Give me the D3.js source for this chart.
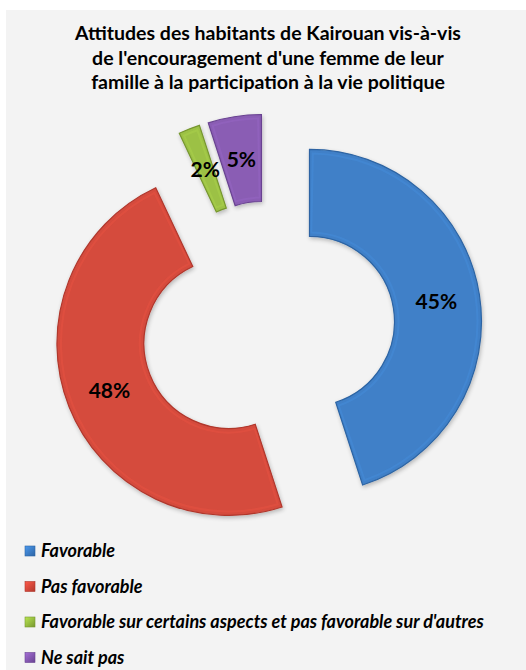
<!DOCTYPE html>
<html><head><meta charset="utf-8">
<script src="https://cdn.jsdelivr.net/npm/d3@7"></script>
<style>body{margin:0;background:#fff}svg{display:block}</style>
</head><body>
<script>
const titleLines = ["Attitudes des habitants de Kairouan vis-à-vis","de l'encouragement d'une femme de leur","famille à la participation à la vie politique"];
const categories = ["Favorable","Pas favorable","Favorable sur certains aspects et pas favorable sur d'autres","Ne sait pas"];
const values = [45,48,2,5];
const labels = ["45%","48%","2%","5%"];
const colors = ["#3f80c8","#d54b3e","#9cc145","#8a5db4"];
const darkColors = ["#2d64a3","#b0372c","#76962f","#694391"];

const W=526,H=670;
const svg=d3.select("body").append("svg").attr("width",W).attr("height",H);
svg.append("rect").attr("x",6).attr("y",10).attr("width",W-6).attr("height",H-10).attr("fill","#f3f3f3");

const defs=svg.append("defs");
colors.forEach((c,i)=>{
  const g=defs.append("linearGradient").attr("id","lg"+i).attr("x1",0).attr("y1",0).attr("x2",1).attr("y2",1);
  g.append("stop").attr("offset","0%").attr("stop-color",d3.color(c).brighter(0.5));
  g.append("stop").attr("offset","100%").attr("stop-color",darkColors[i]);
});
const f=defs.append("filter").attr("id","sh").attr("x","-20%").attr("y","-20%").attr("width","140%").attr("height","140%");
f.append("feGaussianBlur").attr("in","SourceAlpha").attr("stdDeviation",2).attr("result","b");
f.append("feOffset").attr("dx",1).attr("dy",2).attr("result","o");
f.append("feComponentTransfer").append("feFuncA").attr("type","linear").attr("slope",0.25);
const fm=f.append("feMerge");fm.append("feMergeNode");fm.append("feMergeNode").attr("in","SourceGraphic");

svg.append("g").selectAll("text").data(titleLines).join("text")
  .attr("x",268).attr("y",(d,i)=>40+i*24.5)
  .attr("text-anchor","middle").attr("font-family","Lato, sans-serif").attr("font-weight","bold")
  .attr("font-size",19.5).attr("fill","#000").text(d=>d);

const cx=268,cy=328,rOut=172,rIn=85,explode=42;
const pie=d3.pie().sort(null).value(d=>d);
const arcs=pie(values);
const arc=d3.arc().innerRadius(rIn).outerRadius(rOut);
const g=svg.append("g").attr("transform",`translate(${cx},${cy})`);
const sl=g.selectAll("g.s").data(arcs).join("g").attr("class","s")
  .attr("transform",d=>{const a=(d.startAngle+d.endAngle)/2;return `translate(${explode*Math.sin(a)},${-explode*Math.cos(a)})`;});
sl.append("path").attr("d",arc).attr("fill",(d,i)=>colors[i]).attr("stroke",(d,i)=>darkColors[i]).attr("stroke-width",1.2).attr("filter","url(#sh)");
sl.append("path").attr("d",d3.arc().innerRadius(rIn+4).outerRadius(rOut-4).startAngle(d=>d.startAngle+0.02).endAngle(d=>d.endAngle-0.02))
  .attr("fill","none").attr("stroke",(d,i)=>d3.color(colors[i]).brighter(0.35)).attr("stroke-width",2).attr("opacity",0.35);
sl.append("text").attr("transform",d=>`translate(${arc.centroid(d)})`)
  .attr("text-anchor","middle").attr("dy","0.35em")
  .attr("font-family","Lato, sans-serif").attr("font-weight","bold").attr("font-size",21).attr("fill","#000")
  .text((d,i)=>labels[i]);

const lg=svg.append("g").selectAll("g").data(categories).join("g")
  .attr("transform",(d,i)=>`translate(25,${551+i*35.5})`);
lg.append("rect").attr("x",0).attr("y",-5).attr("width",10).attr("height",10)
  .attr("fill",(d,i)=>`url(#lg${i})`).attr("stroke",(d,i)=>darkColors[i]).attr("stroke-width",0.6);
lg.append("text").attr("x",16).attr("dy","0.35em")
  .attr("font-family","Lato, sans-serif").attr("font-weight","bold").attr("font-style","italic").attr("font-size",18)
  .attr("fill","#000").text(d=>d);
</script>
</body></html>
